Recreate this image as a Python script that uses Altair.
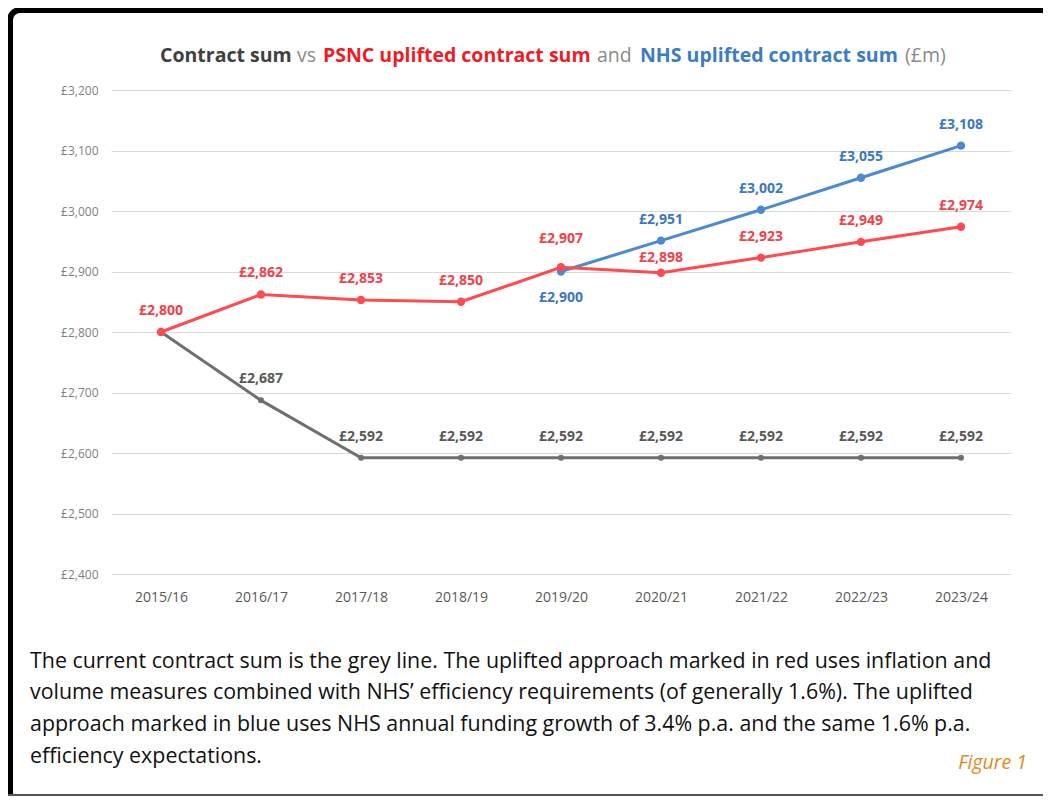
import altair as alt
import pandas as pd

years = ["2015/16", "2016/17", "2017/18", "2018/19", "2019/20",
         "2020/21", "2021/22", "2022/23", "2023/24"]
contract_sum = [2800, 2687, 2592, 2592, 2592, 2592, 2592, 2592, 2592]
psnc_sum = [2800, 2862, 2853, 2850, 2907, 2898, 2923, 2949, 2974]
nhs_sum = [None, None, None, None, 2900, 2951, 3002, 3055, 3108]
y_ticks = [2400, 2500, 2600, 2700, 2800, 2900, 3000, 3100, 3200]

caption_lines = [
    "The current contract sum is the grey line. The uplifted approach marked in red uses inflation and",
    "volume measures combined with NHS\u2019 efficiency requirements (of generally 1.6%). The uplifted",
    "approach marked in blue uses NHS annual funding growth of 3.4% p.a. and the same 1.6% p.a.",
    "efficiency expectations.",
]
title_parts = ["Contract sum", "vs", "PSNC uplifted contract sum", "and",
               "NHS uplifted contract sum", "(\u00a3m)"]

FONT = "Open Sans, sans-serif"
GREY = "#6f6f6f"
RED = "#ff4a4f"
BLUE = "#4a8ad2"

rows = []
for i, y in enumerate(years):
    rows.append({"year": y, "series": "contract", "value": contract_sum[i]})
    rows.append({"year": y, "series": "psnc", "value": psnc_sum[i]})
    if nhs_sum[i] is not None:
        rows.append({"year": y, "series": "nhs", "value": nhs_sum[i]})
df = pd.DataFrame(rows)

W, H = 900, 484

x_enc = alt.X("year:O", sort=years,
              scale=alt.Scale(type="point", padding=0.5),
              axis=alt.Axis(title=None, labelAngle=0, domain=False, ticks=False,
                            labelPadding=16, labelFontSize=14, labelColor="#595959",
                            labelFont=FONT, grid=False))
y_enc = alt.Y("value:Q",
              scale=alt.Scale(domain=[2400, 3200], nice=False, zero=False),
              axis=alt.Axis(title=None, values=y_ticks, domain=False, ticks=False,
                            labelExpr="'\u00a3' + format(datum.value, ',')",
                            labelPadding=13, labelFontSize=12, labelColor="#7f7f7f",
                            labelFont=FONT, grid=True, gridColor="#d9d9d9", gridWidth=1))

base = alt.Chart(df).encode(x=x_enc, y=y_enc).transform_calculate(
    label="'\u00a3' + format(datum.value, ',')")


def series_layers(name, color, size, ptcolor=None):
    b = base.transform_filter(alt.datum.series == name)
    line = b.mark_line(color=color, strokeWidth=3)
    pts = b.mark_circle(color=ptcolor or color, size=size, opacity=1)
    return line, pts


g_line, g_pts = series_layers("contract", GREY, 36)
b_line, b_pts = series_layers("nhs", BLUE, 70)
r_line, r_pts = series_layers("psnc", RED, 70)

lab = dict(font=FONT, fontSize=14, fontWeight="bold")

g_lab = base.transform_filter(
    (alt.datum.series == "contract") & (alt.datum.year != "2015/16")
).mark_text(color="#595959", dy=-21, **lab).encode(text="label:N")

r_lab_main = base.transform_filter(
    (alt.datum.series == "psnc") & (alt.datum.year != "2019/20") & (alt.datum.year != "2020/21")
).mark_text(color="#f0424a", dy=-21, **lab).encode(text="label:N")
r_lab_1920 = base.transform_filter(
    (alt.datum.series == "psnc") & (alt.datum.year == "2019/20")
).mark_text(color="#f0424a", dy=-28, **lab).encode(text="label:N")
r_lab_2021 = base.transform_filter(
    (alt.datum.series == "psnc") & (alt.datum.year == "2020/21")
).mark_text(color="#f0424a", dy=-15, **lab).encode(text="label:N")

b_lab_main = base.transform_filter(
    (alt.datum.series == "nhs") & (alt.datum.year != "2019/20")
).mark_text(color="#3a78c0", dy=-21, **lab).encode(text="label:N")
b_lab_1920 = base.transform_filter(
    (alt.datum.series == "nhs") & (alt.datum.year == "2019/20")
).mark_text(color="#3a78c0", dy=26, **lab).encode(text="label:N")

one = alt.Data(values=[{}])


def note(text, x, y, color, size, weight="normal", style="normal", align="left"):
    return alt.Chart(one).mark_text(
        text=text, font=FONT, fontSize=size, fontWeight=weight, fontStyle=style,
        color=color, align=align, baseline="middle"
    ).encode(x=alt.value(x), y=alt.value(y))


title_x = [49, 186, 212, 486, 529, 794]
title_col = ["#404040", "#8a8a8a", "#ee1c25", "#8a8a8a", "#3b7dc4", "#8a8a8a"]
title_w = ["bold", "normal", "bold", "normal", "bold", "normal"]
titles = [note(t, x, -34, c, 19.5, w) for t, x, c, w in zip(title_parts, title_x, title_col, title_w)]

cap_y = [572, 603, 635, 667]
captions = [note(t, -81, y, "#111111", 21.4) for t, y in zip(caption_lines, cap_y)]
fig = note("Figure 1", 916, 673, "#e08a1e", 19.5, style="italic", align="right")

frame = alt.Chart(one).mark_rect(
    fill="transparent", stroke="black", strokeWidth=6, cornerRadius=10
).encode(x=alt.value(-101), x2=alt.value(1000), y=alt.value(-80), y2=alt.value(900))
bottom = alt.Chart(one).mark_rule(color="#555555", strokeWidth=2).encode(
    x=alt.value(-103), x2=alt.value(940), y=alt.value(705))

chart = alt.layer(
    frame, bottom,
    g_line, b_line, r_line, g_pts, b_pts, r_pts,
    g_lab, r_lab_main, r_lab_1920, r_lab_2021, b_lab_main, b_lab_1920,
    *titles, *captions, fig
).properties(
    width=W, height=H,
    autosize=alt.AutoSizeParams(type="none"),
    padding={"left": 103, "top": 82, "right": 32, "bottom": 222},
).configure_view(stroke=None)

chart.save("out.html", embed_options={"renderer": "svg", "actions": False})
